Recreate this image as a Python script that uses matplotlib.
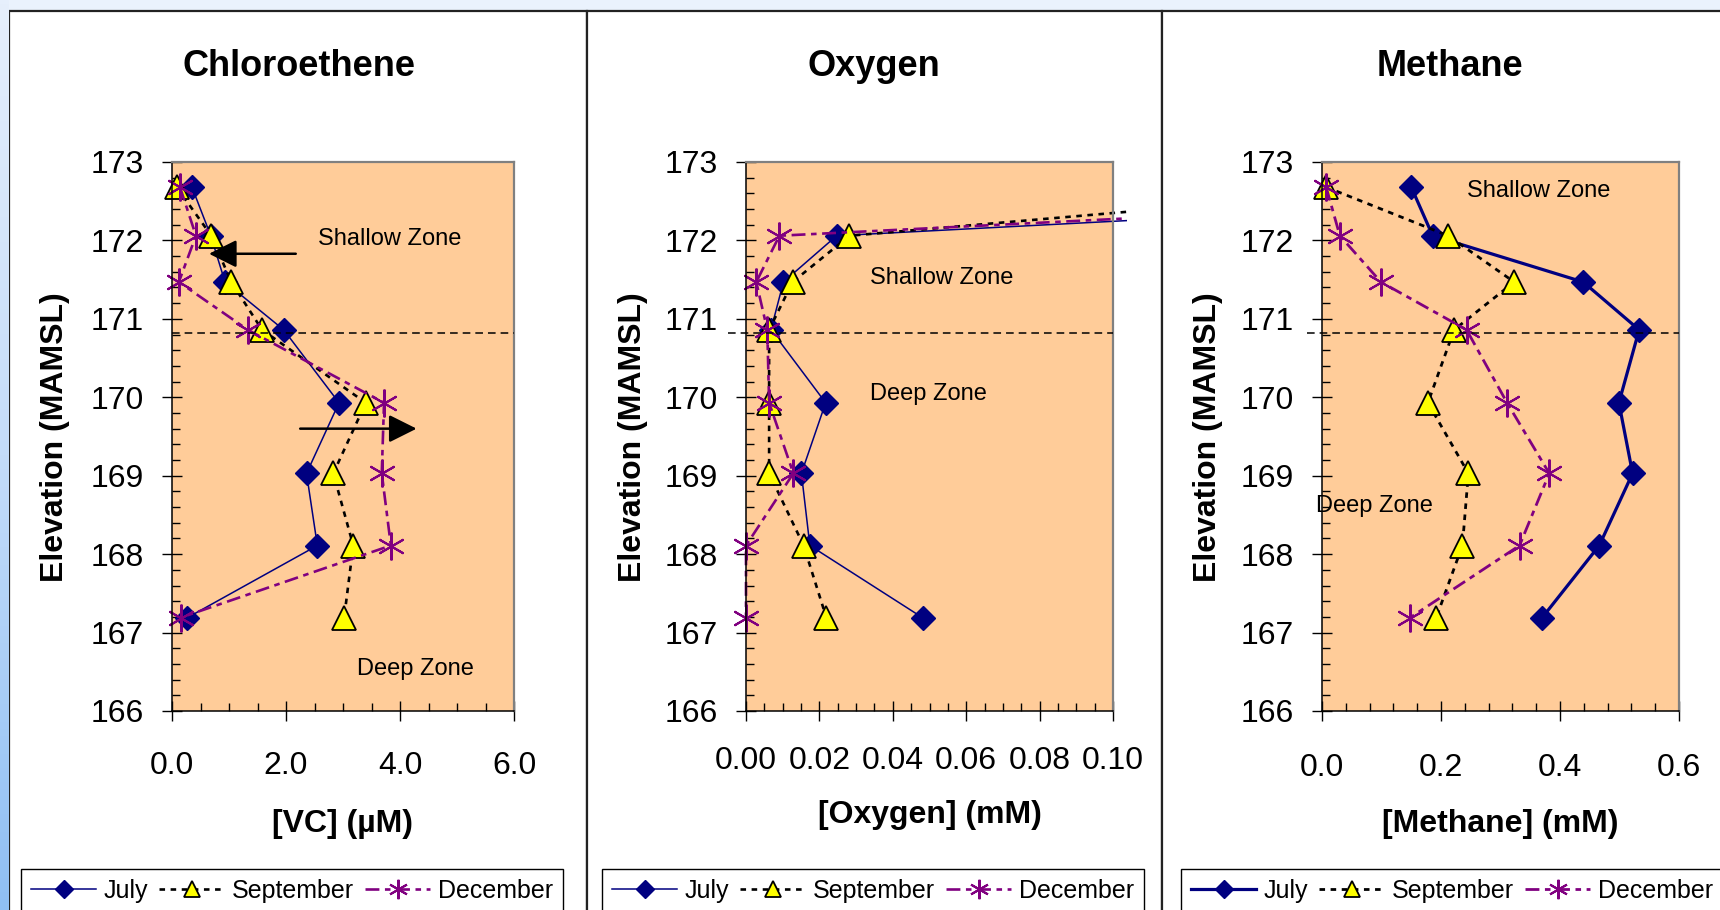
import numpy as np
import matplotlib.pyplot as plt
from matplotlib.patches import Rectangle
from matplotlib.colors import LinearSegmentedColormap
from matplotlib.ticker import MultipleLocator, FormatStrFormatter

plt.rcParams['font.family'] = ['Liberation Sans', 'DejaVu Sans']
plt.rcParams['lines.scale_dashes'] = False

# sampling elevations (m above mean sea level), top to bottom
elevation = [172.68, 172.06, 171.47, 170.86, 169.93, 169.03, 168.11, 167.19]
zone_boundary = 170.82

# vinyl chloride (uM)
vc_july = [0.35, 0.68, 0.93, 1.96, 2.93, 2.36, 2.55, 0.27]
vc_sep = [0.08, 0.69, 1.04, 1.58, 3.40, 2.83, 3.18, 3.02]
vc_dec = [0.14, 0.42, 0.12, 1.33, 3.72, 3.68, 3.84, 0.15]

# dissolved oxygen (mM) - the shallowest samples run off the scale
ox_july = [0.279, 0.0247, 0.0102, 0.0068, 0.0217, 0.0151, 0.0174, 0.0481]
ox_sep = [0.182, 0.0282, 0.0127, 0.0063, 0.0063, 0.0063, 0.0157, 0.0219]
ox_dec = [0.275, 0.0091, 0.0028, 0.0058, 0.0063, 0.0129, 0.0, 0.0]

# methane (mM)
ch4_july = [0.150, 0.186, 0.439, 0.533, 0.499, 0.522, 0.466, 0.370]
ch4_sep = [0.007, 0.212, 0.323, 0.222, 0.178, 0.246, 0.236, 0.192]
ch4_dec = [0.007, 0.030, 0.099, 0.243, 0.311, 0.382, 0.332, 0.148]

months = ['July', 'September', 'December']

W, H = 1720, 910
fig = plt.figure(figsize=(W / 100, H / 100), dpi=100)
fig.patch.set_facecolor('#eaf2fd')


def fx(x):
    return x / W


def fy(y):
    return 1 - y / H


# white chart panels
for x0, x1 in [(9, 587), (587, 1162), (1162, 1740)]:
    fig.patches.append(Rectangle((fx(x0), fy(930)), fx(x1 - x0), (930 - 11) / H,
                                 transform=fig.transFigure, facecolor='white',
                                 edgecolor='#222222', lw=1.6, zorder=-5))

# blue strip down the left edge
strip = fig.add_axes([0, 0, fx(9), 1])
strip.axis('off')
grad = np.linspace(0, 1, 256).reshape(-1, 1)
cm = LinearSegmentedColormap.from_list('edge', ['#e6effc', '#c4dcf9', '#8fbff4'])
strip.imshow(grad, aspect='auto', cmap=cm, extent=(0, 1, 0, 1), origin='upper')


def panel(left, right, title, title_x, xmax, xmajor, xminor, xfmt, xlabel, xlabel_y,
          ylabel_x, xpad, series, lw_july, lw_other, line_x0, legend_x):
    ax = fig.add_axes([fx(left), fy(711), fx(right - left), (711 - 162) / H])
    ax.set_facecolor('#ffcc99')
    for s in ['left', 'bottom']:
        ax.spines[s].set_color('black')
        ax.spines[s].set_linewidth(1.1)
    for s in ['top', 'right']:
        ax.spines[s].set_color('#808080')
        ax.spines[s].set_linewidth(1.6)

    ax.set_xlim(0, xmax)
    ax.set_ylim(166, 173)
    ax.set_yticks(range(166, 174))
    ax.yaxis.set_minor_locator(MultipleLocator(0.2))
    ax.xaxis.set_major_locator(MultipleLocator(xmajor))
    ax.xaxis.set_minor_locator(MultipleLocator(xminor))
    ax.xaxis.set_major_formatter(FormatStrFormatter(xfmt))
    ax.tick_params(axis='both', which='major', direction='inout', length=15, width=1,
                   labelsize=23)
    ax.tick_params(axis='both', which='minor', direction='in', length=6, width=1)
    ax.tick_params(axis='y', which='major', pad=13)
    ax.tick_params(axis='x', which='major', pad=xpad)

    clip = Rectangle((-0.1, 0), 1.138, 1, transform=ax.transAxes)
    july, sep, dec = series
    l1, = ax.plot(july, elevation, color='#000080', lw=lw_july, marker='D', ms=12.5,
                  mfc='#000080', mec='#000080', label=months[0])
    l2, = ax.plot(sep, elevation, color='black', lw=lw_other, ls=(0, (4, 4)),
                  marker='^', ms=17, mfc='#ffff00', mec='black', mew=1.3, label=months[1])
    l3, = ax.plot(dec, elevation, color='#800080', lw=lw_other, ls=(0, (10, 4, 4, 4)),
                  marker=(6, 2, 0), ms=20, mec='#800080', mew=1.5, label=months[2])
    for ln in (l1, l2, l3):
        ln.set_clip_path(clip)

    # shallow / deep zone boundary
    ax.plot([line_x0, xmax], [zone_boundary, zone_boundary], color='black', lw=1.1,
            ls=(0, (5.5, 3.6)), clip_on=False, zorder=5)

    fig.text(fx(title_x), fy(76), title, fontsize=26, fontweight='bold', ha='center',
             va='baseline')
    fig.text(fx((left + right) / 2), fy(xlabel_y), xlabel, fontsize=23, fontweight='bold',
             ha='center', va='center')
    fig.text(fx(ylabel_x), fy(437), 'Elevation (MAMSL)', fontsize=23, fontweight='bold',
             rotation=90, ha='center', va='center')

    leg = ax.legend(loc='upper left', bbox_to_anchor=(fx(legend_x), fy(869)),
                    bbox_transform=fig.transFigure, ncol=3, fontsize=18, frameon=True,
                    fancybox=False, edgecolor='black', framealpha=1, borderaxespad=0,
                    borderpad=0.4, handlelength=2.6, handletextpad=0.3,
                    columnspacing=0.45, markerscale=0.7)
    leg.get_frame().set_linewidth(1.0)
    return ax


ax1 = panel(172, 514, 'Chloroethene', 299, 6, 2, 0.5, '%.1f', '[VC] (\u00b5M)', 824,
            55, 21, (vc_july, vc_sep, vc_dec), 1.1, 1.9, 0, 21)
ax1.text(2.57, 172.02, 'Shallow Zone', fontsize=17, va='center')
ax1.text(3.24, 166.54, 'Deep Zone', fontsize=17, va='center')
ax1.annotate('', xy=(0.60, 171.83), xytext=(2.22, 171.83),
             arrowprops=dict(arrowstyle='-|>,head_length=0.5,head_width=0.25',
                             color='black', lw=1.8, mutation_scale=34))
ax1.annotate('', xy=(4.34, 169.60), xytext=(2.20, 169.60),
             arrowprops=dict(arrowstyle='-|>,head_length=0.5,head_width=0.25',
                             color='black', lw=1.8, mutation_scale=34))

ax2 = panel(746, 1113, 'Oxygen', 874, 0.10, 0.02, 0.005, '%.2f', '[Oxygen] (mM)', 815,
            633, 17.5, (ox_july, ox_sep, ox_dec), 1.1, 1.9, -0.005, 602)
ax2.text(0.0339, 171.52, 'Shallow Zone', fontsize=17, va='center')
ax2.text(0.0339, 170.04, 'Deep Zone', fontsize=17, va='center')

ax3 = panel(1322, 1679, 'Methane', 1450, 0.6, 0.2, 0.04, '%.1f', '[Methane] (mM)', 824,
            1208, 23, (ch4_july, ch4_sep, ch4_dec), 2.3, 2.0, -0.025, 1181)
ax3.text(0.244, 172.63, 'Shallow Zone', fontsize=17, va='center')
ax3.text(-0.0098, 168.62, 'Deep Zone', fontsize=17, va='center', zorder=6)

fig.savefig('out.png', dpi=100, facecolor=fig.get_facecolor())
